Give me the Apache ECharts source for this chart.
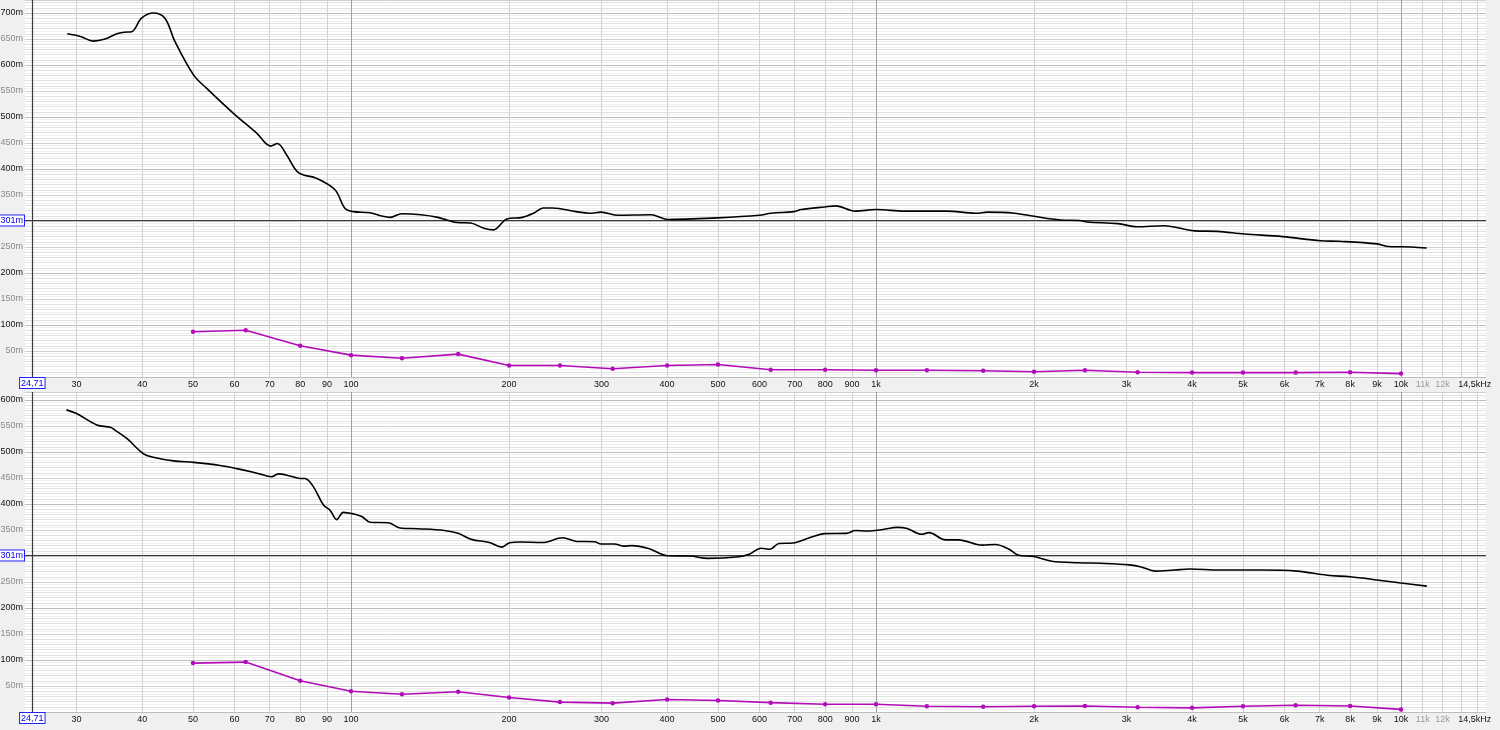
<!DOCTYPE html>
<html><head><meta charset="utf-8">
<script src="https://cdn.jsdelivr.net/npm/echarts@6/dist/echarts.min.js"></script>
<style>html,body{margin:0;padding:0;background:#f0f0f0;overflow:hidden}#c{width:1500px;height:730px}</style>
</head><body><div id="c"></div>
<script>
// ---- data ----
const freqTicks = [30,40,50,60,70,80,90,100,200,300,400,500,600,700,800,900,1000,2000,3000,4000,5000,6000,7000,8000,9000,10000,11000,12000,14500];
const freqTickLabels = ['30','40','50','60','70','80','90','100','200','300','400','500','600','700','800','900','1k','2k','3k','4k','5k','6k','7k','8k','9k','10k','11k','12k','14,5kHz'];
const minorFreqLines = [30,40,50,60,70,80,90,200,300,400,500,600,700,800,900,2000,3000,4000,5000,6000,7000,8000,9000,11000,12000,13000,14000];
const majorFreqLines = [100,1000,10000];
const cursorFreq = 24.71;
const cursorFreqLabel = '24,71';
const refLevel = 301;
const refLevelLabel = '301m';

const topCurveFreq = [28.8,30.5,32.3,34,35.8,37,38.2,39.9,42,44.2,46.2,50.1,53.1,59.7,66.1,70.3,72.4,75.4,79.4,86,93.2,97.4,101,108.7,115,118.7,124.9,135.8,146.4,159.3,169,179.2,186.8,198,212,222.7,232.3,242.1,268.3,284.7,299.3,322.7,372.3,400.7,498.5,599.6,630.7,697.5,720.8,798,838,913,1000,1134,1363,1550,1630,1836,2000,2245,2442,2527,2889,3143,3536,4041,4469,5030,5945,7025,7630,9006,9473,10470,11190];
const topCurveVal  = [660,655,646,650,660,663,664,690,700,690,645,581,555,507,469,444,449,427,393,382,360,324,318,316,309,307,314,312,307,297,296,286,283,304,307,315,325,325,318,315,317,311,312,303,306,311,315,318,322,327,329,319,322,319,319,315,317,315,309,302,301,298,295,289,291,281,280,275,270,262,261,256,251,250,248];

const botCurveFreq = [28.7,30,32.8,34.8,35.5,37.4,40.2,42,45.9,50.1,56.3,60.6,65.1,69.1,70.6,72.7,76.5,79.9,81.7,84.8,88.6,91.2,93.9,96.7,101,104.8,108.7,117.8,124,134.1,150.7,159.9,169.5,183.4,193.8,200.5,210.2,231.7,253,268.9,290.6,299.6,317.6,330,343,370,400,442,478,548,575,604,628,653,694,751,797,878,914,961,1031,1096,1146,1221,1261,1357,1434,1594,1687,1792,1863,1997,2161,2429,2672,3040,3200,3400,3700,3960,4500,5400,6330,7240,8000,9000,10000,11200];
const botCurveVal  = [581,574,552,547.5,542,526,497,490,483,480,474,468,461,454,452.5,458,454,449,449,433,398,388,370,384,381,376,365,364,354,352.5,349,343.6,332,326,317,325.6,327,326,335,328,327.5,323,323,319,320,314,300.6,300,295.5,298.7,304,315,313,324,325,336,343,343.6,349,348,351,355,353,341.7,345,331,331,321,322,313,302,299,290,287,286,283,279,271,273,275,273,273,271,263,260,254,248,242];

const bandFreq = [50,63,80,100,125,160,200,250,315,400,500,630,800,1000,1250,1600,2000,2500,3150,4000,5000,6300,8000,10000];
const topBandVal = [87,90,60,42,36,44,22,22,16,22,24,14,14,13,13,12,10,13,9,8.5,8.5,8.5,9,6.5];
const botBandVal = [94,96,60,40,34,39,28,19,17,24,22,18,15,15,11,10,11,11.5,9,8,11,13,11.5,5];

const yMaxTop = 725, yMaxBot = 615.4;

// ---- chart ----
const X_MIN = 23.93, X_MAX = 14518;
const FONT = 'Liberation Sans';
const pair = (fs, vs) => fs.map((f, i) => [f, vs[i]]);

function gridX(gi, values, color, withLabels) {
  return {
    type: 'log', logBase: 10, gridIndex: gi, min: X_MIN, max: X_MAX, position: 'bottom',
    axisLine: {show: false},
    axisTick: {show: false, customValues: values},
    axisLabel: withLabels ? {
      show: true, customValues: values, margin: 3, fontSize: 9, fontFamily: FONT,
      formatter: v => {
        const i = freqTicks.indexOf(v);
        if (i < 0) return '';
        return v === 14500 ? '{r|' + freqTickLabels[i] + '}' : freqTickLabels[i];
      },
      rich: {r: {fontSize: 9, fontFamily: FONT, color: '#111', padding: [0, 22, 0, 0]}},
      color: v => (v === 11000 || v === 12000) ? '#9a9a9a' : '#111'
    } : {show: false},
    splitLine: {show: true, lineStyle: {color, width: 1}},
    minorTick: {show: false}, minorSplitLine: {show: false}
  };
}
function gridY(gi, max, interval, colors, withLabels, minor) {
  return {
    type: 'value', gridIndex: gi, min: 0, max, interval, position: 'left',
    axisLine: {show: false}, axisTick: {show: false},
    axisLabel: withLabels ? {
      show: true, margin: 2, fontSize: 9, fontFamily: FONT, showMaxLabel: false, showMinLabel: false,
      formatter: v => (v % 50 === 0 && v !== 300 && v > 0) ? v + 'm' : '',
      color: v => v % 100 === 0 ? '#111' : '#8a8a8a'
    } : {show: false},
    splitLine: {show: true, lineStyle: {color: colors, width: 1}},
    minorTick: {show: false, splitNumber: 2},
    minorSplitLine: {show: !!minor, lineStyle: {color: '#f0f0f0', width: 1}}
  };
}
const boxLabel = (txt, pos) => ({
  show: true, position: pos, formatter: txt, distance: 1,
  color: '#0000ee', fontSize: 9, fontFamily: FONT,
  backgroundColor: '#fff', borderColor: '#2222ff', borderWidth: 1, padding: [1, 1, 0, 1]
});
function markers() {
  return {
    silent: true, symbol: 'none', animation: false,
    data: [
      {yAxis: refLevel, lineStyle: {color: '#3a3a3a', width: 1.2, type: 'solid'}, label: boxLabel(refLevelLabel, 'start')},
      {xAxis: cursorFreq, lineStyle: {color: '#3a3a3a', width: 1.2, type: 'solid'}, label: boxLabel(cursorFreqLabel, 'start')}
    ]
  };
}

const grids = [
  {left: 25, top: 0, width: 1461, height: 377, show: true, backgroundColor: '#fff', borderWidth: 0, outerBoundsMode: 'none', containLabel: false},
  {left: 25, top: 392, width: 1461, height: 320, show: true, backgroundColor: '#fff', borderWidth: 0, outerBoundsMode: 'none', containLabel: false}
];
const xAxes = [], yAxes = [];
[0, 1].forEach(g => {
  xAxes.push(gridX(g, minorFreqLines, '#d3d3d3', false));
  xAxes.push(gridX(g, majorFreqLines, '#a0a0a0', false));
  xAxes.push(Object.assign(gridX(g, freqTicks, 'transparent', true), {splitLine: {show: false}}));
  const mx = g === 0 ? yMaxTop : yMaxBot;
  yAxes.push(gridY(g, mx, 10, '#e1e1e1', false, true));
  yAxes.push(gridY(g, mx, 50, ['#bdbdbd', '#cfcfcf'], true, false));
});
const lineS = (g, data, extra) => Object.assign({
  type: 'line', xAxisIndex: 3 * g + 2, yAxisIndex: 2 * g + 1, data, animation: false
}, extra);

const series = [
  lineS(0, pair(topCurveFreq, topCurveVal), {smooth: 0.35, showSymbol: false, lineStyle: {color: '#000', width: 1.6}, itemStyle: {color: '#000'}, markLine: markers(), z: 5}),
  lineS(0, pair(bandFreq, topBandVal), {symbol: 'circle', symbolSize: 4.5, lineStyle: {color: '#b20cb8', width: 1.6}, itemStyle: {color: '#b20cb8'}, z: 4}),
  lineS(1, pair(botCurveFreq, botCurveVal), {smooth: 0.35, showSymbol: false, lineStyle: {color: '#000', width: 1.6}, itemStyle: {color: '#000'}, markLine: markers(), z: 5}),
  lineS(1, pair(bandFreq, botBandVal), {symbol: 'circle', symbolSize: 4.5, lineStyle: {color: '#b20cb8', width: 1.6}, itemStyle: {color: '#b20cb8'}, z: 4})
];

const chart = echarts.init(document.getElementById('c'), null, {renderer: 'canvas'});
chart.setOption({
  backgroundColor: '#f0f0f0', animation: false,
  grid: grids, xAxis: xAxes, yAxis: yAxes, series
});
</script></body></html>
